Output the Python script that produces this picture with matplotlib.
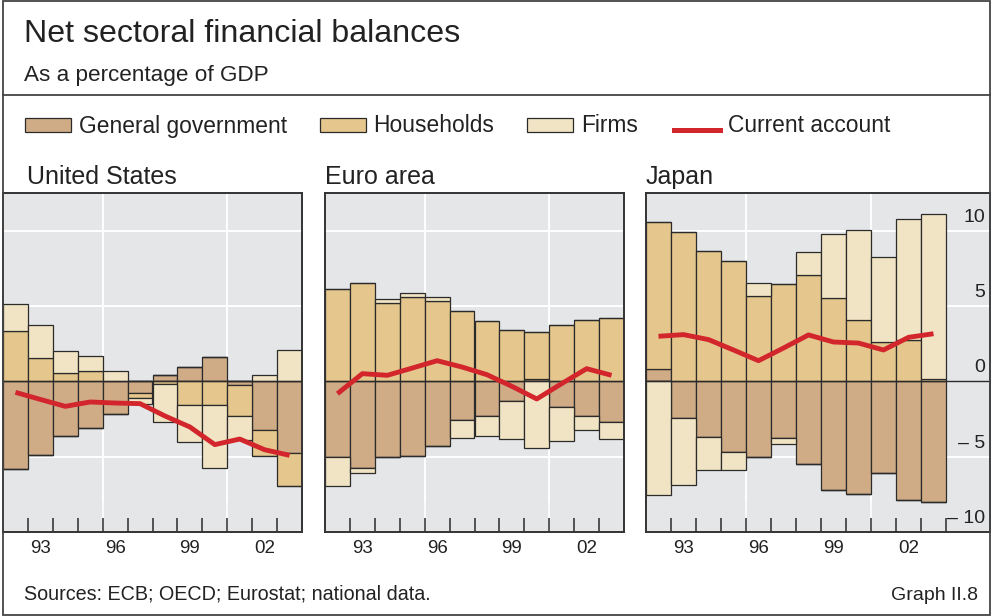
import matplotlib
matplotlib.use("Agg")
import matplotlib.pyplot as plt
import matplotlib.transforms as mtransforms
import numpy as np
from matplotlib.patches import Rectangle
from matplotlib.lines import Line2D

plt.rcParams['font.family'] = ['Liberation Sans', 'DejaVu Sans']

years = [1992, 1993, 1994, 1995, 1996, 1997, 1998, 1999, 2000, 2001, 2002, 2003]
year_labels = ["93", "96", "99", "02"]
label_years = [1993, 1996, 1999, 2002]

us_govt = [-5.8, -4.9, -3.6, -3.1, -2.2, -0.77, 0.44, 0.95, 1.6, -0.22, -3.25, -4.76]
us_hh = [3.36, 1.53, 0.55, 0.71, 0.0, -0.33, -0.15, -1.6, -1.6, -2.06, -1.68, -2.17]
us_firms = [1.77, 2.23, 1.44, 1.0, 0.71, -0.4, -2.58, -2.4, -4.16, -1.59, 0.4, 2.08]
us_ca = [-0.73, -1.2, -1.66, -1.37, -1.44, -1.48, -2.3, -3.03, -4.2, -3.83, -4.54, -4.91]

ea_govt = [-5.04, -5.75, -5.04, -4.98, -4.27, -2.57, -2.28, -1.28, 0.18, -1.7, -2.32, -2.7]
ea_hh = [6.15, 6.5, 5.2, 5.6, 5.3, 4.69, 4.0, 3.4, 3.09, 3.76, 4.07, 4.2]
ea_firms = [-1.92, -0.33, 0.27, 0.27, 0.33, -1.19, -1.37, -2.54, -4.42, -2.28, -0.93, -1.1]
ea_ca = [-0.82, 0.51, 0.4, 0.88, 1.37, 0.95, 0.44, -0.33, -1.17, -0.15, 0.84, 0.4]

jp_govt = [0.82, -2.43, -3.72, -4.69, -5.04, -3.78, -5.49, -7.19, -7.48, -6.08, -7.9, -8.0]
jp_hh = [9.73, 9.89, 8.63, 7.99, 5.69, 6.44, 7.04, 5.55, 4.09, 2.59, 2.72, 0.15]
jp_firms = [-7.57, -4.42, -2.15, -1.17, 0.84, -0.38, 1.53, 4.25, 5.95, 5.64, 8.03, 10.97]
jp_ca = [2.99, 3.1, 2.77, 2.08, 1.37, 2.21, 3.08, 2.61, 2.54, 2.08, 2.92, 3.16]

panels = [
    ("United States", us_govt, us_hh, us_firms, us_ca),
    ("Euro area", ea_govt, ea_hh, ea_firms, ea_ca),
    ("Japan", jp_govt, jp_hh, jp_firms, jp_ca),
]
sector_names = ["General government", "Households", "Firms"]
yticks_vals = [10, 5, 0, -5, -10]
yticks_text = ["10", "5", "0", "\u2013 5", "\u2013 10"]

C_GOV = "#CFAC86"
C_HH = "#E5C68D"
C_FIRM = "#F1E4C4"
C_CA = "#D2262C"
C_BG = "#E5E6E8"
C_EDGE = "#2B2B2B"
C_TXT = "#222222"

W, H = 993, 616
fig = plt.figure(figsize=(W / 100, H / 100), dpi=100)
fig.patch.set_facecolor("white")

def fx(px):
    return px / W

def fy(py):
    return 1 - py / H

# outer frame and separator
fig.add_artist(Rectangle((fx(2.5), fy(615)), fx(990) - fx(2.5), fy(1) - fy(615),
                         transform=fig.transFigure, fill=False, lw=1.3, edgecolor="#444444"))
fig.add_artist(Line2D([fx(2.5), fx(990)], [fy(95), fy(95)], transform=fig.transFigure,
                      color="#444444", lw=1.3))

fig.text(fx(24), fy(42), "Net sectoral financial balances", fontsize=23.1, color=C_TXT, va="baseline")
fig.text(fx(24), fy(81), "As a percentage of GDP", fontsize=16.2, color=C_TXT, va="baseline")

# legend
leg_items = [(25, 79, C_GOV, sector_names[0]), (320, 373, C_HH, sector_names[1]),
             (527, 581, C_FIRM, sector_names[2])]
for x0, xt, col, name in leg_items:
    fig.add_artist(Rectangle((fx(x0), fy(132)), fx(46), fy(118) - fy(132), transform=fig.transFigure,
                             facecolor=col, edgecolor=C_EDGE, lw=0.9))
    fig.text(fx(xt), fy(132.5), name, fontsize=16.4, color=C_TXT, va="baseline")
fig.add_artist(Line2D([fx(674), fx(720)], [fy(130), fy(130)], transform=fig.transFigure,
                      color=C_CA, lw=3.6))
fig.text(fx(728), fy(132.5), "Current account", fontsize=16.4, color=C_TXT, va="baseline")

fig.text(fx(24), fy(600), "Sources: ECB; OECD; Eurostat; national data.", fontsize=14.2,
         color=C_TXT, va="baseline")
fig.text(fx(978), fy(600), "Graph II.8", fontsize=14, color=C_TXT, va="baseline", ha="right")

axes_px = [(3, 302), (325, 624), (646, 990)]
top_px, bot_px = 193, 532
x = np.array(years, dtype=float)

for i, (title, gov, hh, firm, ca) in enumerate(panels):
    l, r = axes_px[i]
    ax = fig.add_axes([fx(l), fy(bot_px), fx(r) - fx(l), fy(top_px) - fy(bot_px)])
    ax.set_facecolor(C_BG)
    xmin = 1991.5
    xmax = xmin + (r - l) / 25.0 if i == 2 else 2003.5
    ax.set_xlim(xmin, xmax)
    ax.set_ylim(-10, 12.5)

    for yv in [-5, 5, 10]:
        ax.axhline(yv, color="white", lw=1.4, zorder=0.5)
    for xv in [1995.5, 2000.5]:
        ax.axvline(xv, color="white", lw=1.4, zorder=0.5)

    pos_b = np.zeros(len(x))
    neg_b = np.zeros(len(x))
    for vals, col in [(gov, C_GOV), (hh, C_HH), (firm, C_FIRM)]:
        v = np.array(vals, dtype=float)
        p = np.where(v > 0, v, 0)
        n = np.where(v < 0, v, 0)
        ax.bar(x, p, width=1.0, bottom=pos_b, color=col, edgecolor=C_EDGE, lw=0.9, zorder=2)
        ax.bar(x, n, width=1.0, bottom=neg_b, color=col, edgecolor=C_EDGE, lw=0.9, zorder=2)
        pos_b += p
        neg_b += n
    ax.axhline(0, color=C_EDGE, lw=1.0, zorder=3)
    ax.plot(x, ca, color=C_CA, lw=3.5, zorder=4, solid_capstyle="butt")

    ax.set_yticks([])
    ax.set_xticks([])
    ax.set_xticks(np.arange(1992.5, 2003.6 if i == 2 else 2003.0, 1.0), minor=True)
    ax.tick_params(axis="x", which="minor", direction="in", length=10, width=1.1, color=C_EDGE)
    sec = ax.secondary_xaxis("bottom")
    sec.set_xticks([1995.5, 2000.5])
    sec.set_xticklabels([])
    sec.tick_params(direction="in", length=21.5, width=1.1, color=C_EDGE)
    sec.spines["bottom"].set_visible(False)

    trans = mtransforms.blended_transform_factory(ax.transData, fig.transFigure)
    for yr, lab in zip(label_years, year_labels):
        ax.text(yr, fy(553), lab, transform=trans, ha="center", va="baseline",
                fontsize=13.5, color=C_TXT, clip_on=False)

    for s in ax.spines.values():
        s.set_color("#333333")
        s.set_linewidth(1.4)

    fig.text(fx(l + 24 if i == 0 else l), fy(184), title, fontsize=18, color=C_TXT, va="baseline")

    if i == 2:
        for yv, t in zip(yticks_vals, yticks_text):
            ax.text(0.986, yv + 0.6, t, transform=ax.get_yaxis_transform(), ha="right",
                    va="baseline", fontsize=14, color=C_TXT, zorder=5)

fig.savefig("out.png", dpi=100)
